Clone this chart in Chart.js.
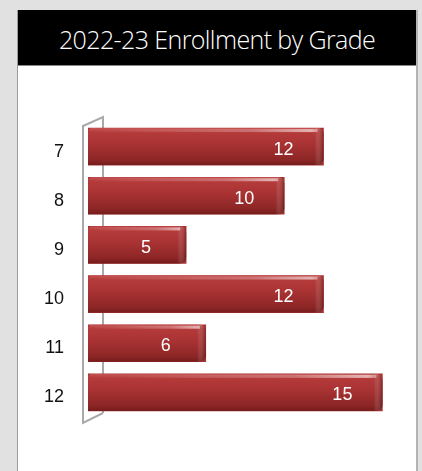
<!DOCTYPE html>
<html>
<head>
<meta charset="utf-8">
<script src="https://cdn.jsdelivr.net/npm/chart.js@4"></script>
<style>
  html, body { margin: 0; padding: 0; }
  body { width: 422px; height: 471px; background: #e1e1e1; position: relative; overflow: hidden; }
  .panel {
    position: absolute; left: 17px; top: 10px; width: 398px; height: 470px;
    background: #fff; border-left: 1px solid #9a9a9a; border-right: 2px solid #b4b4b4;
  }
  .panel h1 {
    margin: 0; height: 55px; background: #000; color: #fff;
    border-bottom: 1px solid #8a8a8a; text-align: center;
    font: 300 25px "Open Sans", sans-serif; line-height: 58px; letter-spacing: -0.6px;
  }
  #chart { position: absolute; left: 0; top: 0; }
</style>
</head>
<body>
<div class="panel"><h1>2022-23 Enrollment by Grade</h1></div>
<canvas id="chart" width="422" height="471"></canvas>
<script>
// ── Data ────────────────────────────────────────────────────────────────
const grades = ['7', '8', '9', '10', '11', '12'];
const enrollment = [12, 10, 5, 12, 6, 15];
const axisMax = 16;

// ── 3D-ish wall at the left of the plot ─────────────────────────────────
const wallPlugin = {
    id: 'wall',
    beforeDatasetsDraw(chart) {
        const { ctx, chartArea: a } = chart;
        const fx = a.left - 5, bx = a.left + 15;
        ctx.save();
        ctx.strokeStyle = '#a9a9a9';
        ctx.lineWidth = 2;
        ctx.beginPath();
        ctx.moveTo(bx, a.bottom - 4);
        ctx.lineTo(bx, a.top - 5);
        ctx.lineTo(fx, a.top + 4);
        ctx.lineTo(fx, a.bottom + 6);
        ctx.lineTo(bx, a.bottom - 4);
        ctx.stroke();
        ctx.restore();
    }
};

// ── Shading + value labels on the bars ──────────────────────────────────
const shadePlugin = {
    id: 'shade',
    afterDatasetsDraw(chart) {
        const { ctx } = chart;
        const meta = chart.getDatasetMeta(0);
        ctx.save();
        meta.data.forEach((bar, i) => {
            const top = bar.y - bar.height / 2, h = bar.height;
            const left = bar.base, right = bar.x;
            // body
            const g = ctx.createLinearGradient(0, top, 0, top + h);
            g.addColorStop(0, '#c55252');
            g.addColorStop(0.1, '#b63b3b');
            g.addColorStop(0.45, '#a83232');
            g.addColorStop(0.85, '#8d2626');
            g.addColorStop(1, '#761c1c');
            ctx.fillStyle = g;
            ctx.beginPath();
            ctx.roundRect(left, top, right - left, h, [4, 6, 6, 0]);
            ctx.fill();
            // highlight streak near the top-right
            const hg = ctx.createLinearGradient(left, 0, right, 0);
            hg.addColorStop(0, 'rgba(255,255,255,0)');
            hg.addColorStop(0.7, 'rgba(255,255,255,0.25)');
            hg.addColorStop(0.95, 'rgba(255,255,255,0.6)');
            hg.addColorStop(1, 'rgba(255,255,255,0.2)');
            ctx.fillStyle = hg;
            ctx.fillRect(left + 4, top + 1, right - left - 10, 3);
            // end cap
            const cg = ctx.createLinearGradient(right - 10, 0, right, 0);
            cg.addColorStop(0, 'rgba(0,0,0,0)');
            cg.addColorStop(0.3, 'rgba(255,255,255,0.08)');
            cg.addColorStop(1, 'rgba(40,0,0,0.35)');
            ctx.fillStyle = cg;
            ctx.beginPath();
            ctx.roundRect(right - 10, top, 10, h, [0, 6, 6, 0]);
            ctx.fill();
            // value label
            ctx.fillStyle = '#fff';
            ctx.font = '18px "Liberation Sans", Arial, sans-serif';
            ctx.textAlign = 'center';
            ctx.textBaseline = 'middle';
            ctx.fillText(enrollment[i], right - 40, bar.y + 3);
        });
        ctx.restore();
    }
};

new Chart(document.getElementById('chart'), {
    type: 'bar',
    data: {
        labels: grades,
        datasets: [{
            data: enrollment,
            backgroundColor: '#a83232',
            borderWidth: 0,
            borderSkipped: 'start',
            barThickness: 37,
        }]
    },
    options: {
        indexAxis: 'y',
        responsive: false,
        animation: false,
        layout: { padding: { left: 0, top: 122, right: 20, bottom: 54 } },
        plugins: { legend: { display: false }, tooltip: { enabled: false } },
        scales: {
            x: { display: false, min: 0, max: axisMax },
            y: {
                grid: { display: false },
                border: { display: false },
                afterFit: s => { s.width = 88; },
                ticks: {
                    color: '#111',
                    padding: 16,
                    labelOffset: 5,
                    font: { family: '"Liberation Sans", Arial, sans-serif', size: 18 }
                }
            }
        }
    },
    plugins: [wallPlugin, shadePlugin]
});
</script>
</body>
</html>
